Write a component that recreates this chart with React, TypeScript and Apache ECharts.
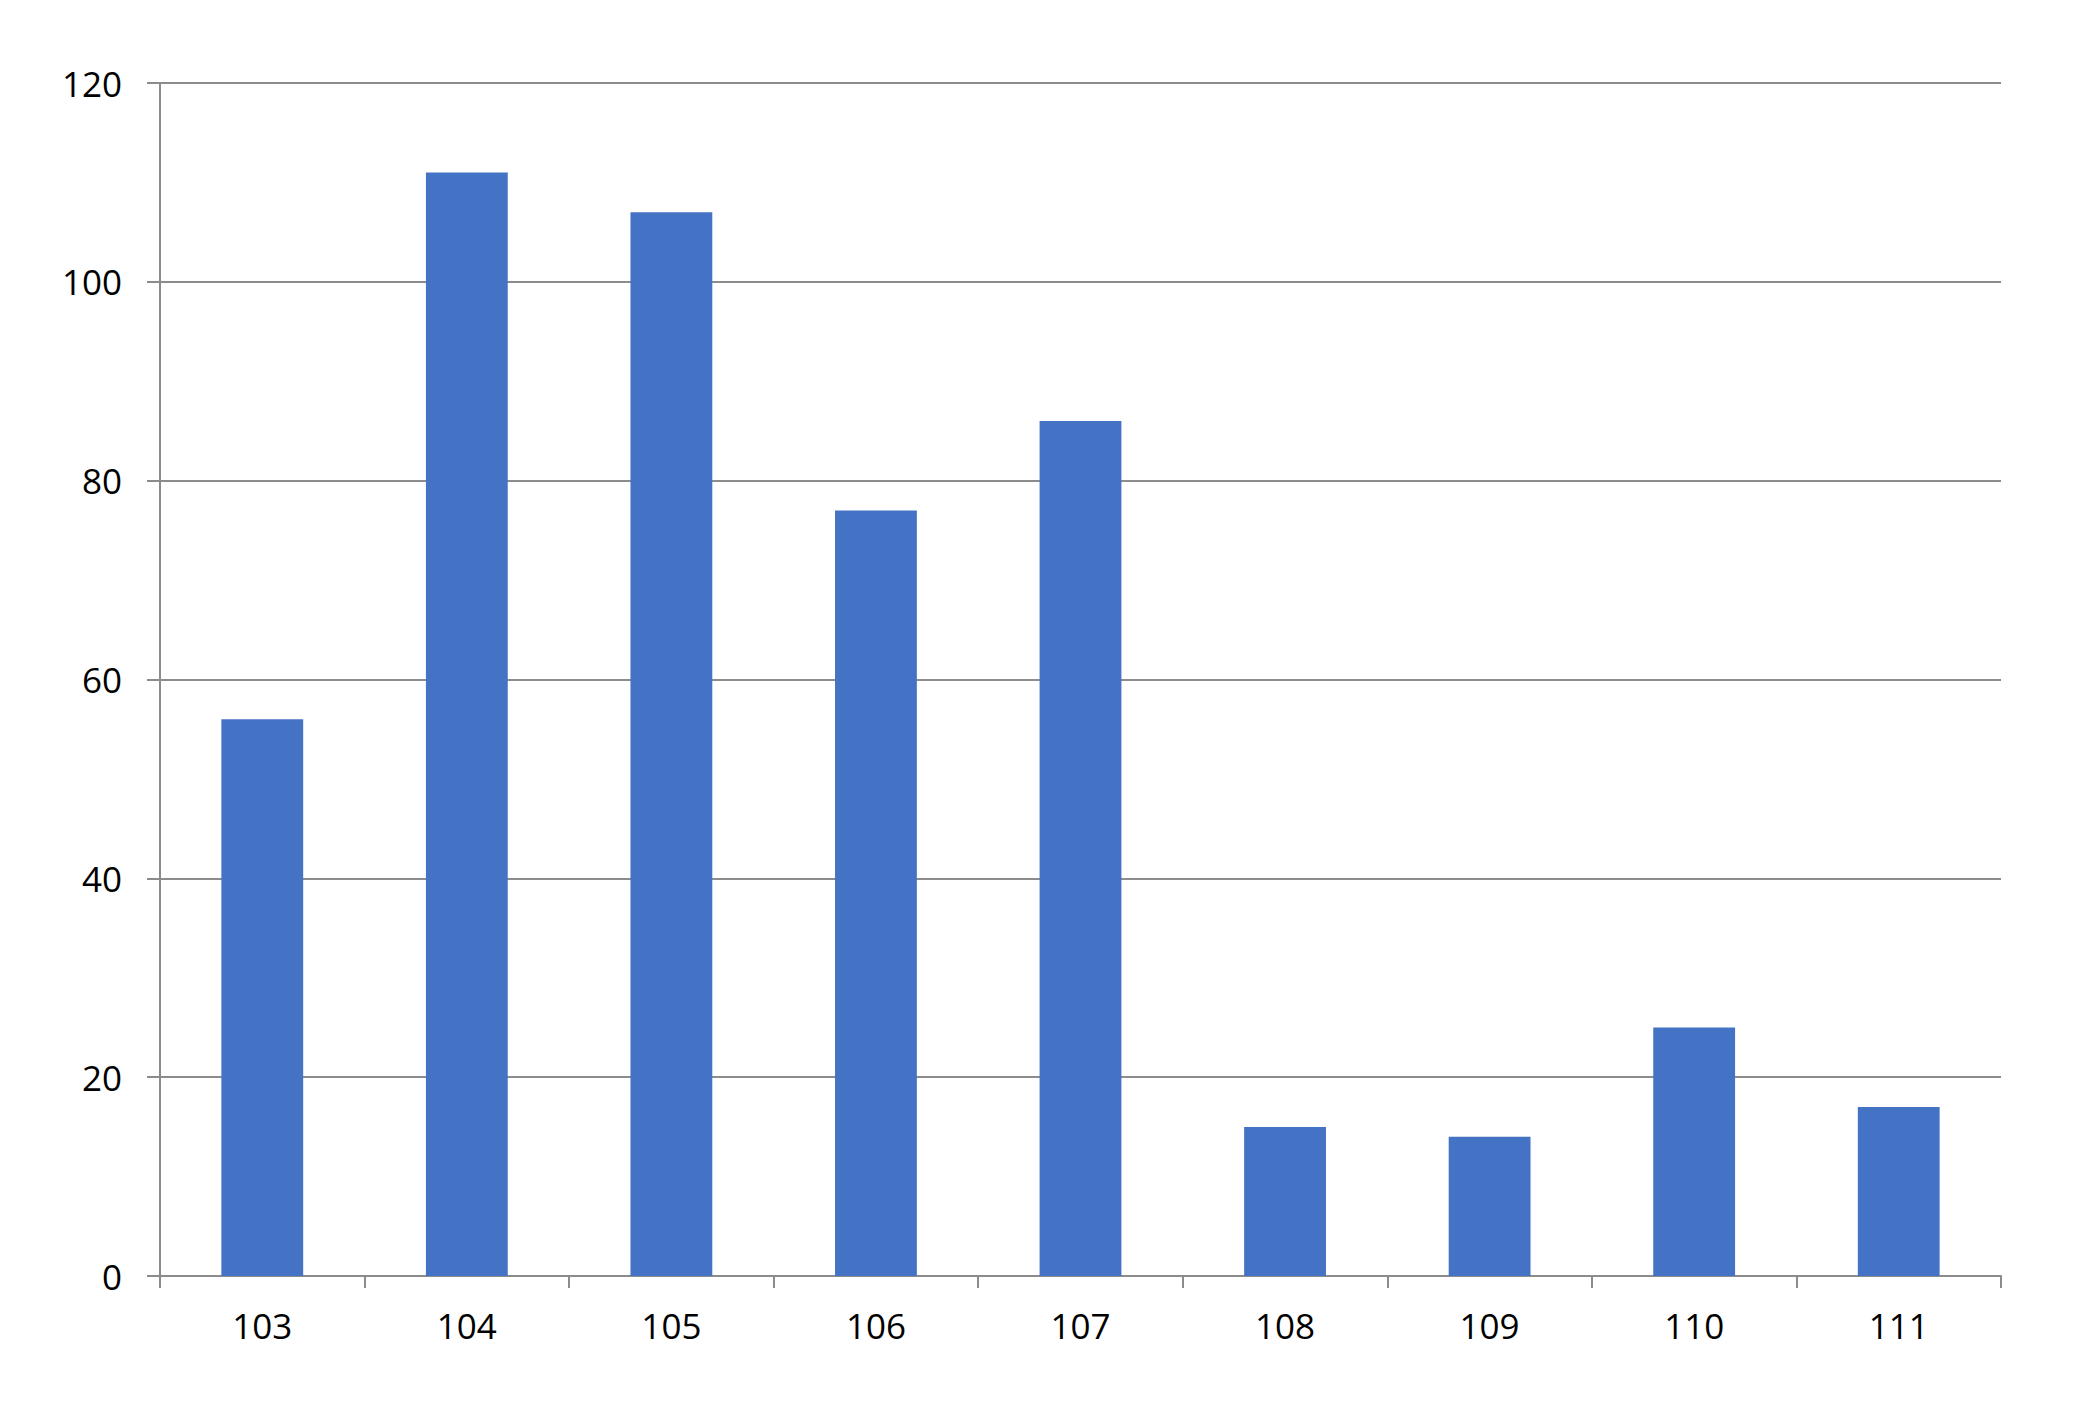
import React, { useEffect, useRef } from "react";
import * as echarts from "echarts";

const categories = ["103", "104", "105", "106", "107", "108", "109", "110", "111"];
const values = [56, 111, 107, 77, 86, 15, 14, 25, 17];
const yTicks = { min: 0, max: 120, interval: 20 };

export default function App() {
  const ref = useRef<HTMLDivElement>(null);
  useEffect(() => {
    if (!ref.current) return;
    const chart = echarts.init(ref.current, null, { renderer: "svg" });
    const lineColor = "#8c8c8c";
    chart.setOption({
      animation: false,
      backgroundColor: "#ffffff",
      grid: { left: 160, right: 73, top: 83, bottom: 142, containLabel: false },
      xAxis: {
        type: "category",
        data: categories,
        axisLine: { show: true, lineStyle: { color: lineColor, width: 2 } },
        axisTick: { show: true, length: 12, lineStyle: { color: lineColor, width: 2 } },
        axisLabel: { color: "#000", fontFamily: "Open Sans", fontSize: 35, margin: 32 },
        splitLine: { show: false },
      },
      yAxis: {
        type: "value",
        min: yTicks.min,
        max: yTicks.max,
        interval: yTicks.interval,
        axisLine: { show: true, lineStyle: { color: lineColor, width: 2 } },
        axisTick: { show: true, length: 13, lineStyle: { color: lineColor, width: 2 } },
        axisLabel: { color: "#000", fontFamily: "Open Sans", fontSize: 35, margin: 38 },
        splitLine: { show: true, lineStyle: { color: lineColor, width: 2 } },
      },
      series: [
        {
          type: "bar",
          data: values,
          barCategoryGap: "60%",
          itemStyle: { color: "#4472C4" },
        },
      ],
    });
    return () => chart.dispose();
  }, []);
  return (
    <div
      ref={ref}
      style={{ position: "fixed", left: 0, top: 0, width: 2074, height: 1418, background: "#fff" }}
    />
  );
}
